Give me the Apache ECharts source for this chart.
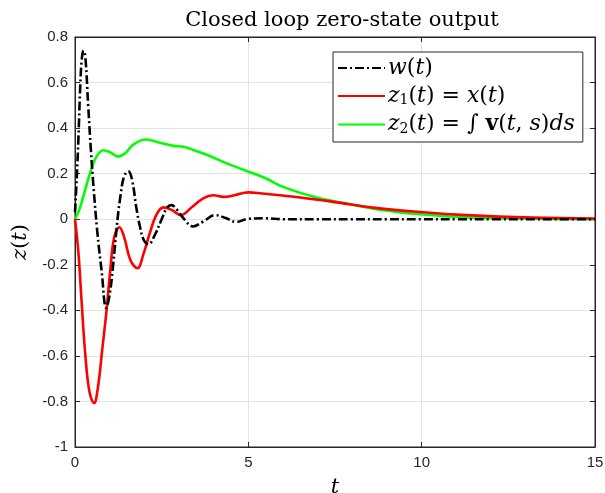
<!DOCTYPE html>
<html>
<head>
<meta charset="utf-8">
<script src="https://cdn.jsdelivr.net/npm/echarts@6/dist/echarts.min.js"></script>
<style>html,body{margin:0;padding:0;background:#fff;}#c{width:605px;height:493px;}</style>
</head>
<body>
<div id="c"></div>
<script>
var xTicks = [0, 5, 10, 15];
var yTicks = [-1, -0.8, -0.6, -0.4, -0.2, 0, 0.2, 0.4, 0.6, 0.8];

var tW = [0,0.05,0.1,0.15,0.2,0.25,0.3,0.38,0.46,0.53,0.64,0.77,0.9,1.0,1.1,1.2,1.3,1.42,1.54,1.65,1.77,1.87,1.98,2.12,2.3,2.5,2.65,2.78,2.95,3.15,3.4,3.7,4.05,4.35,4.65,5.0,5.5,6,7,8,9,10,11,12,13,14,15];
var w  = [0.03,0.18,0.36,0.58,0.71,0.74,0.71,0.5,0.3,0.15,-0.05,-0.23,-0.39,-0.33,-0.2,-0.04,0.09,0.19,0.21,0.17,0.05,-0.03,-0.09,-0.11,-0.07,0.0,0.05,0.062,0.04,0.0,-0.032,-0.01,0.018,0.005,-0.012,0.002,0.004,0.0,0,0,0,0,0,0,0,0,0];

var tZ1 = [0,0.1,0.19,0.3,0.42,0.55,0.66,0.78,0.91,1.02,1.13,1.28,1.42,1.6,1.8,1.98,2.16,2.35,2.55,2.8,3.05,3.35,3.7,3.99,4.28,4.6,5.0,5.4,5.9,6.5,7.45,8.6,9.95,11.3,13.2,15];
var z1  = [0,-0.15,-0.36,-0.6,-0.76,-0.807,-0.74,-0.58,-0.4,-0.22,-0.08,-0.035,-0.08,-0.18,-0.215,-0.15,-0.06,0.02,0.052,0.04,0.018,0.05,0.092,0.105,0.098,0.105,0.118,0.113,0.105,0.095,0.076,0.051,0.032,0.018,0.007,0.003];

var tZ2 = [0,0.12,0.24,0.36,0.48,0.62,0.82,1.0,1.25,1.45,1.7,2.05,2.4,2.84,3.12,3.4,3.8,4.38,4.95,5.5,6.0,6.97,7.93,8.89,9.95,11.3,13.2,15];
var z2  = [0,0.04,0.1,0.165,0.223,0.275,0.303,0.295,0.275,0.29,0.33,0.35,0.338,0.322,0.318,0.305,0.283,0.245,0.212,0.18,0.142,0.095,0.066,0.04,0.022,0.008,0.002,0.0];

function pairs(t, v) { return t.map(function (x, i) { return [x, v[i]]; }); }

var serif = 'DejaVu Serif';
var sans = 'Liberation Sans';
var LF = 22;
var legendRich = {
  i: {fontFamily: serif, fontStyle: 'italic', fontSize: LF, color: '#000'},
  n: {fontFamily: serif, fontSize: LF, color: '#000'},
  b: {fontFamily: serif, fontWeight: 'bold', fontSize: LF, color: '#000'},
  s: {fontFamily: serif, fontSize: 14, color: '#000', verticalAlign: 'bottom', padding: [9, 0, 0, 0]}
};
var legendText = {
  'w': '{i|w}{n|(}{i|t}{n|)}',
  'z1': '{i|z}{s|1}{n|(}{i|t}{n|) = }{i|x}{n|(}{i|t}{n|)}',
  'z2': '{i|z}{s|2}{n|(}{i|t}{n|) = ∫ }{b|v}{n|(}{i|t}{n|, }{i|s}{n|)}{i|ds}'
};

var chart = echarts.init(document.getElementById('c'), null, {renderer: 'canvas'});
var axisCol = '#262626';
chart.setOption({
  animation: false,
  backgroundColor: '#fff',
  title: {
    text: 'Closed loop zero-state output',
    left: 337, top: 5, textAlign: 'center',
    textStyle: {fontFamily: serif, fontWeight: 'normal', fontSize: 21, color: '#000'}
  },
  grid: {left: 75, right: 10, top: 37, bottom: 46, show: true, borderColor: axisCol, borderWidth: 1,
         containLabel: false, outerBoundsMode: 'none'},
  legend: {
    orient: 'vertical', left: 333, top: 52,
    padding: [5, 8, 6, 4], itemGap: 6, itemWidth: 47, itemHeight: 14,
    borderColor: '#262626', borderWidth: 1, backgroundColor: '#fff',
    itemStyle: {opacity: 0},
    data: ['w', 'z1', 'z2'],
    formatter: function (name) { return legendText[name]; },
    textStyle: {rich: legendRich, padding: [0, 0, 0, -2]}
  },
  xAxis: [{
    type: 'value', min: 0, max: 15, interval: 5,
    name: 't', nameLocation: 'middle', nameGap: 30,
    nameTextStyle: {fontFamily: serif, fontStyle: 'italic', fontSize: 21, color: '#000'},
    axisLine: {show: true, onZero: false, lineStyle: {color: axisCol}},
    axisTick: {show: true, inside: true, length: 5, lineStyle: {color: axisCol}},
    axisLabel: {fontFamily: sans, fontSize: 15, color: axisCol, margin: 8},
    splitLine: {show: true, lineStyle: {color: '#e3e3e3', width: 1}}
  }, {
    type: 'value', min: 0, max: 15, interval: 5, position: 'top',
    axisLine: {show: true, onZero: false, lineStyle: {color: axisCol}},
    axisTick: {show: true, inside: true, length: 5, lineStyle: {color: axisCol}},
    axisLabel: {show: false}, splitLine: {show: false}
  }],
  yAxis: [{
    type: 'value', min: -1, max: 0.8, interval: 0.2,
    name: '{i|z}{n|(}{i|t}{n|)}', nameLocation: 'middle', nameGap: 41, nameRotate: 90,
    nameTextStyle: {rich: {
      i: {fontFamily: serif, fontStyle: 'italic', fontSize: 21, color: '#000'},
      n: {fontFamily: serif, fontSize: 21, color: '#000'}
    }},
    axisLine: {show: true, onZero: false, lineStyle: {color: axisCol}},
    axisTick: {show: true, inside: true, length: 5, lineStyle: {color: axisCol}},
    axisLabel: {fontFamily: sans, fontSize: 15, color: axisCol, margin: 7,
      formatter: function (v) { return String(Math.round(v * 10) / 10); }},
    splitLine: {show: true, lineStyle: {color: '#e3e3e3', width: 1}}
  }, {
    type: 'value', min: -1, max: 0.8, interval: 0.2, position: 'right',
    axisLine: {show: true, onZero: false, lineStyle: {color: axisCol}},
    axisTick: {show: true, inside: true, length: 5, lineStyle: {color: axisCol}},
    axisLabel: {show: false}, splitLine: {show: false}
  }],
  series: [
    {name: 'z2', type: 'line', data: pairs(tZ2, z2), showSymbol: false, symbol: 'none', smooth: 0.4,
     lineStyle: {color: '#00ff00', width: 2.6}, itemStyle: {color: '#00ff00'}, z: 2},
    {name: 'z1', type: 'line', data: pairs(tZ1, z1), showSymbol: false, symbol: 'none', smooth: 0.4,
     lineStyle: {color: '#ff0000', width: 2.6}, itemStyle: {color: '#ff0000'}, z: 3},
    {name: 'w', type: 'line', data: pairs(tW, w), showSymbol: false, symbol: 'none', smooth: 0.4,
     lineStyle: {color: '#000', width: 2.6, type: [9, 3, 2, 3]}, itemStyle: {color: '#000'}, z: 4}
  ]
});
</script>
</body>
</html>
